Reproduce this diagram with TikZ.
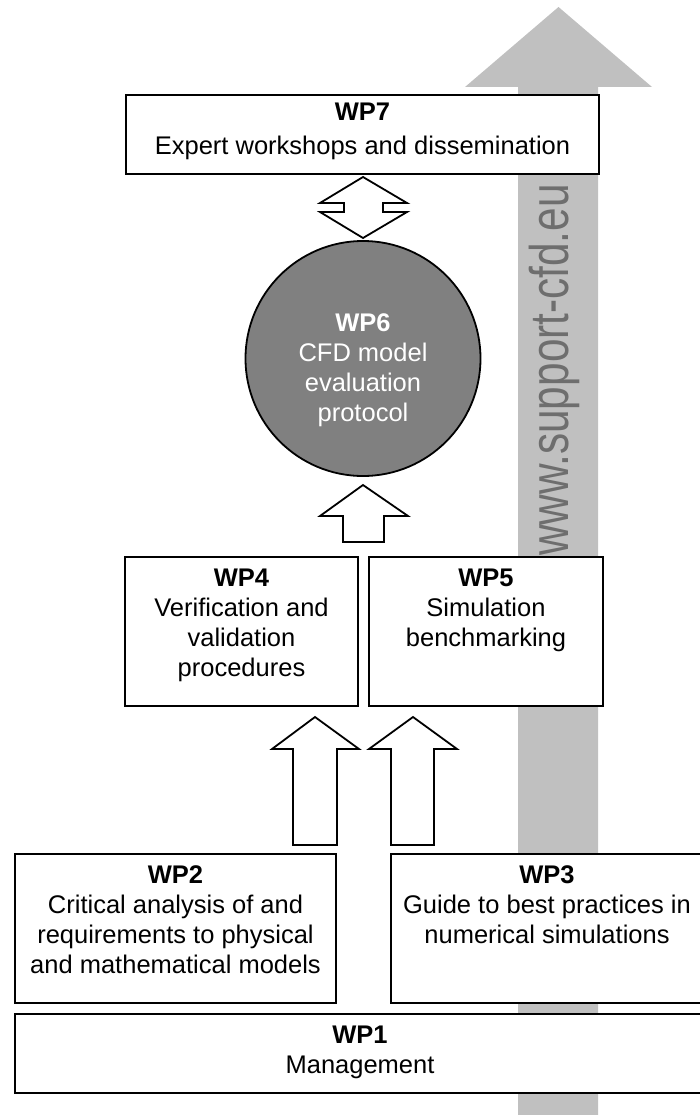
\documentclass[tikz,border=0pt]{standalone}
\usepackage{fontspec}
\setmainfont{Liberation Sans}
\newlength{\du}
\setlength{\du}{1\unitlength}
\definecolor{arrowgrey}{rgb}{0.752941, 0.752941, 0.752941}
\definecolor{discgrey}{rgb}{0.501961, 0.501961, 0.501961}
\definecolor{urlgrey}{rgb}{0.430000, 0.430000, 0.430000}
\tikzset{
  wpbox/.style={draw=black, fill=white, line width=1.800000\du, inner sep=0pt},
  wptext/.style={anchor=north, align=center, inner sep=0pt, font=\fontsize{25.5}{30}\selectfont},
  blockarrow/.style={draw=black, fill=white, line width=1.800000\du, line join=miter}
}

\begin{document}
\begin{tikzpicture}
\pgftransformxscale{1.000000}
\pgftransformyscale{-1.000000}
\useasboundingbox (0\du,0\du) rectangle (700\du,1115\du);
% grey arrow behind
\fill[arrowgrey] (518\du,1115\du)--(518\du,87\du)--(465\du,87\du)--(558.5\du,7\du)--(652\du,87\du)--(598\du,87\du)--(598\du,1115\du)--cycle;
\node[rotate=90, xscale=0.778, text=urlgrey, inner sep=0pt, font=\fontsize{54.4}{54.4}\selectfont] (url) at (554\du,370\du) {www.support-cfd.eu};
% boxes
\node[wpbox, minimum width=473\du, minimum height=79\du] (wp7) at (362.5\du,134.5\du) {};
\node[wptext, font=\fontsize{25.5}{34}\selectfont] (wp7txt) at (362.5\du,103\du) {\textbf{WP7}\\Expert workshops and dissemination};
\node[circle, draw=black, fill=discgrey, line width=1.800000\du, minimum size=235\du, inner sep=0pt] (wp6) at (363\du,358.5\du) {};
\node[wptext, text=white] (wp6txt) at (363\du,313\du) {\textbf{WP6}\\CFD model\\evaluation\\protocol};
\node[wpbox, minimum width=233\du, minimum height=149\du] (wp4) at (241.5\du,631.5\du) {};
\node[wptext] (wp4txt) at (241.5\du,569\du) {\textbf{WP4}\\Verification and\\validation\\procedures};
\node[wpbox, minimum width=234\du, minimum height=149\du] (wp5) at (486\du,631.5\du) {};
\node[wptext] (wp5txt) at (486\du,569\du) {\textbf{WP5}\\Simulation\\benchmarking};
\node[wpbox, minimum width=321\du, minimum height=149\du] (wp2) at (175.5\du,928.5\du) {};
\node[wptext] (wp2txt) at (175.5\du,865\du) {\textbf{WP2}\\Critical analysis of and\\requirements to physical\\and mathematical models};
\node[wpbox, minimum width=313\du, minimum height=149\du] (wp3) at (547.5\du,928.5\du) {};
\node[wptext] (wp3txt) at (547\du,865\du) {\textbf{WP3}\\Guide to best practices in\\numerical simulations};
\node[wpbox, minimum width=690\du, minimum height=79\du] (wp1) at (360\du,1053.5\du) {};
\node[wptext] (wp1txt) at (360\du,1026\du) {\textbf{WP1}\\Management};
% block arrows
\draw[blockarrow] (363\du,177\du)--(407\du,203\du)--(383\du,203\du)--(383\du,212\du)--(407\du,212\du)--(363\du,238\du)--(320\du,212\du)--(344\du,212\du)--(344\du,203\du)--(320\du,203\du)--cycle;
\draw[blockarrow] (363\du,485\du)--(408\du,516\du)--(384\du,516\du)--(384\du,542\du)--(343\du,542\du)--(343\du,516\du)--(320\du,516\du)--cycle;
\draw[blockarrow] (315\du,717\du)--(359\du,749\du)--(337\du,749\du)--(337\du,845\du)--(293\du,845\du)--(293\du,749\du)--(272\du,749\du)--cycle;
\draw[blockarrow] (413\du,717\du)--(457\du,749\du)--(434\du,749\du)--(434\du,845\du)--(391\du,845\du)--(391\du,749\du)--(369\du,749\du)--cycle;
\end{tikzpicture}
\end{document}
